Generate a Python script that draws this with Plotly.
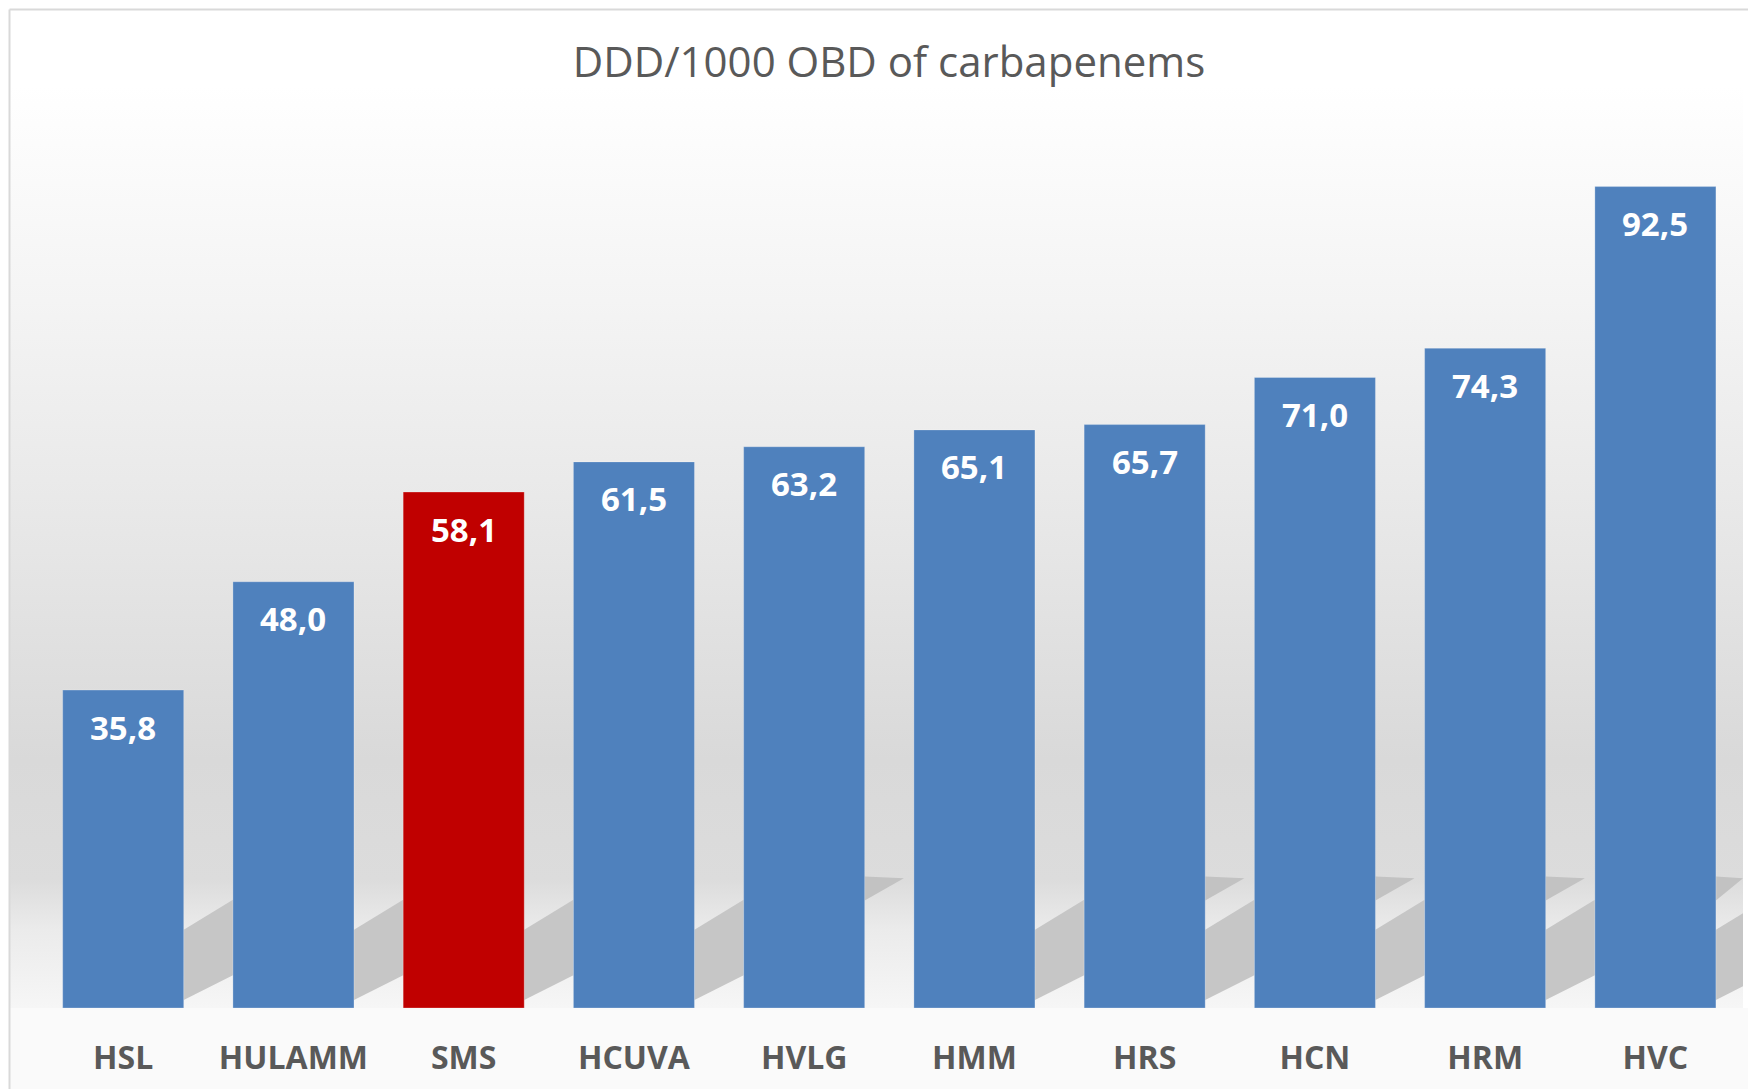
import base64
import plotly.graph_objects as go

# ---- data ----
hospitals = ["HSL", "HULAMM", "SMS", "HCUVA", "HVLG", "HMM", "HRS", "HCN", "HRM", "HVC"]
ddd_values = [35.8, 48.0, 58.1, 61.5, 63.2, 65.1, 65.7, 71.0, 74.3, 92.5]
highlight = "SMS"
title_text = "DDD/1000 OBD of carbapenems"

# ---- style / geometry (figure pixels; page adds an 8px body margin) ----
OFF = 8
W, H = 1756 - OFF, 1089 - OFF
PL, PR, PT, PB = 10 - OFF, 1743 - OFF, 120 - OFF, 1008 - OFF   # plot area edges
BLUE, RED = "#4F81BD", "#C00000"
GRAY_TXT = "#595959"
FONT = "Open Sans"
bar_w = 0.711
# decorative perspective-shadow style (Excel effect) per gap after each bar
lower_shadow_gaps = [0, 1, 2, 3, 5, 6, 7, 8, 9]
upper_wedge_gaps = [4, 6, 7, 8, 9]

pw, ph = PR - PL, PB - PT
def px_x(p):
    return (p - PL) / pw
def px_y(p):
    return (PB - p) / ph

colors = [RED if h == highlight else BLUE for h in hospitals]
labels = [f"{v:.1f}".replace(".", ",") for v in ddd_values]

fig = go.Figure()
fig.add_trace(go.Bar(
    x=list(range(len(hospitals))), y=ddd_values,
    marker=dict(color=colors, line=dict(color="rgba(255,255,255,0.25)", width=1)),
    width=bar_w, hoverinfo="skip", showlegend=False,
))

# data labels
annotations = []
for i, (v, t) in enumerate(zip(ddd_values, labels)):
    annotations.append(dict(
        x=i, y=v, xref="x", yref="y", text=f"<b>{t}</b>", showarrow=False,
        yanchor="middle", yshift=-37,
        font=dict(family=FONT, size=33, color="white"),
    ))

# wall gradient as SVG image
stops = [(0, "#ffffff"), (0.233, "#f4f4f4"), (0.504, "#e6e6e6"), (0.731, "#d9d9d9"),
         (0.861, "#dcdcdc"), (0.915, "#ebebeb"), (1.0, "#f6f6f6")]
stop_xml = "".join(f'<stop offset="{o}" stop-color="{c}"/>' for o, c in stops)
svg = ('<svg xmlns="http://www.w3.org/2000/svg" viewBox="0 0 1 1" preserveAspectRatio="none">'
       '<defs><linearGradient id="g" x1="0" y1="0" x2="0" y2="1">' + stop_xml +
       '</linearGradient></defs><rect x="0" y="0" width="1" height="1" fill="url(#g)"/></svg>')
src = "data:image/svg+xml;base64," + base64.b64encode(svg.encode()).decode()
grad_top = 85 - OFF
images = [dict(source=src, xref="paper", yref="paper", x=0, y=px_y(grad_top),
               sizex=1, sizey=px_y(grad_top), sizing="stretch",
               xanchor="left", yanchor="top", layer="below")]

shapes = []
# floor strip below the bars
shapes.append(dict(type="rect", xref="paper", yref="paper", x0=0, x1=px_x(W), y0=px_y(H), y1=0,
                   fillcolor="#fafafa", line=dict(width=0), layer="below"))
# perspective shadows in the gaps between bars
half = bar_w / 2
x_max = 9 + (1743 - 1655.4) / 170.24
for i in range(len(hospitals)):
    xr = i + half
    xl = min(i + 1 - half, x_max)
    frac = (xl - xr) / (1 - bar_w)
    if i in lower_shadow_gaps:
        shapes.append(dict(
            type="path", xref="x", yref="y",
            path=(f"M {xr},0.9 L {xr},8.8 L {xl},{8.8 + 3.4 * frac} "
                  f"L {xl},{0.9 + 2.8 * frac} Z"),
            fillcolor="#c6c6c6", line=dict(width=0), layer="below"))
    if i in upper_wedge_gaps:
        tip = min(xr + 0.23, xl)
        shapes.append(dict(
            type="path", xref="x", yref="y",
            path=f"M {xr},12.1 L {xr},14.8 L {tip},14.6 Z",
            fillcolor="#c2c2c2", line=dict(width=0), layer="below"))
# chart border (top and left)
b = 9.5 - OFF
shapes.append(dict(type="line", xref="paper", yref="paper", x0=px_x(b), x1=px_x(W),
                   y0=px_y(b), y1=px_y(b), line=dict(color="#d9d9d9", width=2)))
shapes.append(dict(type="line", xref="paper", yref="paper", x0=px_x(b), x1=px_x(b),
                   y0=px_y(b), y1=px_y(H), line=dict(color="#d9d9d9", width=2)))

fig.update_layout(
    width=W, height=H,
    margin=dict(l=PL, r=W - PR, t=PT, b=H - PB, pad=0),
    paper_bgcolor="white", plot_bgcolor="rgba(0,0,0,0)",
    title=dict(text=title_text, x=(889 - OFF) / W, xanchor="center", y=1 - (62 - OFF) / H,
               yanchor="middle", xref="container", yref="container",
               font=dict(family=FONT, size=42, color=GRAY_TXT)),
    xaxis=dict(
        tickmode="array", tickvals=list(range(len(hospitals))),
        ticktext=[f"<b>{h}</b>" for h in hospitals],
        range=[-0.665, x_max], showgrid=False, zeroline=False, showline=False,
        ticks="outside", ticklen=22, tickcolor="rgba(0,0,0,0)",
        tickfont=dict(family=FONT, size=32, color=GRAY_TXT),
    ),
    yaxis=dict(range=[0, 100], visible=False, showgrid=False, zeroline=False),
    annotations=annotations, images=images, shapes=shapes,
    bargap=0.289,
)

fig.write_html("out.html")
